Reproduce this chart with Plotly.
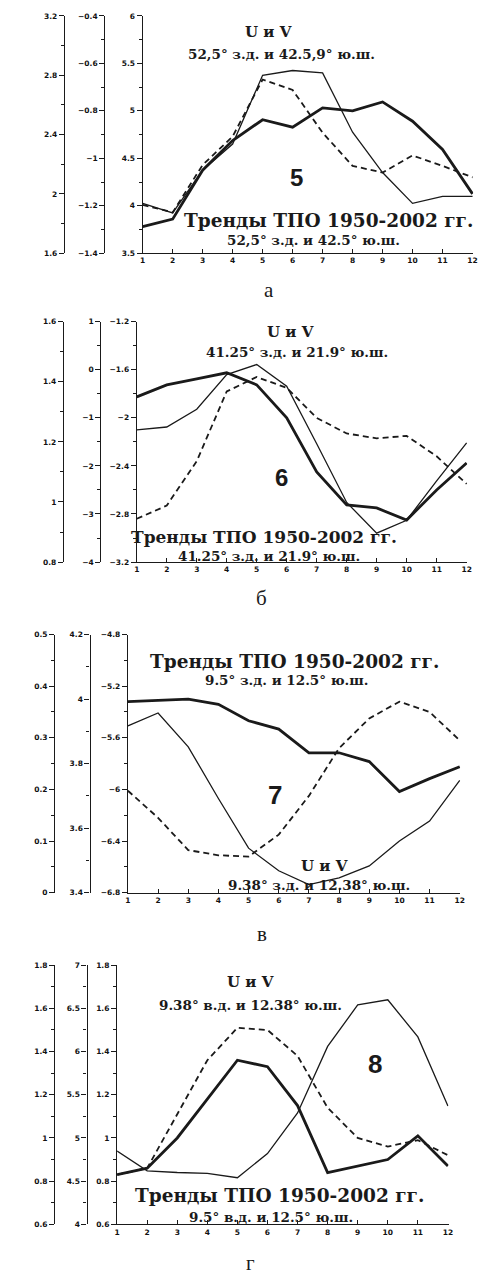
import plotly.graph_objects as go

W, H = 486, 1280
months = list(range(1, 13))
month_labels = [str(m) for m in months]

# Panel а (5)
a_thick = [1.78, 1.83, 2.16, 2.36, 2.50, 2.45, 2.58, 2.56, 2.62, 2.49, 2.30, 2.00]
a_thin = [-1.19, -1.23, -1.05, -0.94, -0.65, -0.63, -0.64, -0.89, -1.06, -1.19, -1.16, -1.16]
a_dash = [4.01, 3.93, 4.43, 4.73, 5.33, 5.22, 4.77, 4.42, 4.35, 4.53, 4.42, 4.30]

# Panel б (6)
b_thick = [1.35, 1.39, 1.41, 1.43, 1.39, 1.28, 1.10, 0.99, 0.98, 0.94, 1.04, 1.13]
b_thin = [-1.25, -1.19, -0.82, -0.10, 0.11, -0.34, -1.54, -2.76, -3.40, -3.13, -2.31, -1.52]
b_dash = [-2.84, -2.73, -2.36, -1.78, -1.66, -1.75, -2.00, -2.13, -2.17, -2.15, -2.32, -2.55]

# Panel в (7)
c_thick = [0.37, 0.373, 0.375, 0.365, 0.333, 0.317, 0.271, 0.271, 0.254, 0.196, 0.221, 0.244]
c_thin = [3.917, 3.957, 3.852, 3.692, 3.538, 3.468, 3.425, 3.446, 3.483, 3.560, 3.622, 3.748]
c_dash = [-6.01, -6.22, -6.47, -6.51, -6.52, -6.35, -6.05, -5.68, -5.45, -5.32, -5.40, -5.62]

# Panel г (8)
d_thick = [0.83, 0.86, 1.00, 1.18, 1.36, 1.33, 1.15, 0.84, 0.87, 0.90, 1.01, 0.87]
d_thin = [4.85, 4.62, 4.60, 4.59, 4.54, 4.82, 5.29, 6.06, 6.54, 6.60, 6.17, 5.37]
d_dash = [0.83, 0.86, 1.11, 1.36, 1.51, 1.50, 1.38, 1.14, 1.00, 0.96, 0.99, 0.92]

# axis ranges (min, max, step) per panel: [axis1, axis2, axis3(main)]
axis_ranges = [
    [(1.6, 3.2, 0.4), (-1.4, -0.4, 0.2), (3.5, 6.0, 0.5)],
    [(0.8, 1.6, 0.2), (-4.0, 1.0, 1.0), (-3.2, -1.2, 0.4)],
    [(0.0, 0.5, 0.1), (3.4, 4.2, 0.2), (-6.8, -4.8, 0.4)],
    [(0.6, 1.8, 0.2), (4.0, 7.0, 0.5), (0.6, 1.8, 0.2)],
]

series = [
    (a_thick, a_thin, a_dash),
    (b_thick, b_thin, b_dash),
    (c_thick, c_thin, c_dash),
    (d_thick, d_thin, d_dash),
]

# layout geometry in pixels
# (x_start, x_end, y_top, y_bottom, axis1_x, axis2_x)
geom = [
    (142, 478, 12, 251, 62, 103),
    (136, 472, 320, 562, 61, 99),
    (127, 465, 635, 895, 52, 88),
    (116, 453, 968, 1229, 52, 85),
]


def px(x):
    return x / W


def py(y):
    return 1 - y / H


INK = "#1a1a1a"
TICKFONT = dict(family="DejaVu Sans", size=7.5, color="#111111", weight="bold")

fig = go.Figure()
layout = {}

for p in range(4):
    x0, x1, yt, yb, a1x, a2x = geom[p]
    xname = "x" if p == 0 else f"x{p + 1}"
    xkey = "xaxis" if p == 0 else f"xaxis{p + 1}"
    ids = [3 * p + 1, 3 * p + 2, 3 * p + 3]
    ynames = ["y" if i == 1 else f"y{i}" for i in ids]
    ykeys = ["yaxis" if i == 1 else f"yaxis{i}" for i in ids]
    main_y = ynames[2]

    layout[xkey] = dict(
        domain=[px(x0), px(x1)], anchor=main_y, range=[1, 12.02],
        tickmode="array", tickvals=months, ticktext=month_labels,
        showline=True, linecolor=INK, linewidth=1.3,
        ticks="inside", ticklen=4, tickcolor=INK, tickwidth=1,
        tickfont=TICKFONT, showgrid=False, zeroline=False,
    )
    domain_y = [py(yb), py(yt)]
    positions = [px(a1x), px(a2x)]
    for k in range(3):
        lo, hi, st = axis_ranges[p][k]
        ax = dict(
            range=[lo, hi], dtick=st, tick0=lo,
            showline=True, linecolor=INK, linewidth=1.3,
            ticks="outside", ticklen=5, tickcolor=INK, tickwidth=1,
            tickfont=TICKFONT, showgrid=False, zeroline=False,
            minor=dict(dtick=st / 2, tick0=lo, ticklen=3, tickcolor=INK, ticks="outside"),
            side="left",
        )
        if k == 2:
            ax.update(domain=domain_y, anchor=xname)
        else:
            ax.update(anchor="free", position=positions[k], overlaying=main_y)
        layout[ykeys[k]] = ax

    thick, thin, dash = series[p]
    fig.add_trace(go.Scatter(x=months, y=thick, xaxis=xname, yaxis=ynames[0], mode="lines",
                             line=dict(color=INK, width=2.8), showlegend=False))
    fig.add_trace(go.Scatter(x=months, y=thin, xaxis=xname, yaxis=ynames[1], mode="lines",
                             line=dict(color=INK, width=1.3), showlegend=False))
    fig.add_trace(go.Scatter(x=months, y=dash, xaxis=xname, yaxis=ynames[2], mode="lines",
                             line=dict(color=INK, width=1.8, dash="6px,4px"), showlegend=False))

SERIF = "DejaVu Serif"
LSERIF = "Liberation Serif"
SANS = "Liberation Sans"
deg = "°"

texts = [
    # (text, x, y, size, family, bold)
    ("U и V", 270, 28, 15, SERIF, True),
    (f"52,5{deg} з.д. и 42.5,9{deg} ю.ш.", 283, 50, 13.5, SERIF, True),
    ("5", 298, 175, 24, SANS, True),
    ("Тренды ТПО 1950-2002 гг.", 331, 218, 18.5, SERIF, True),
    (f"52,5{deg} з.д. и 42.5{deg} ю.ш.", 316, 238, 13.5, SERIF, True),
    ("а", 270, 288, 21, LSERIF, False),

    ("U и V", 292, 330, 15, SERIF, True),
    (f"41.25{deg} з.д. и 21.9{deg} ю.ш.", 299, 350, 13.5, SERIF, True),
    ("6", 283, 477, 24, SANS, True),
    ("Тренды ТПО 1950-2002 гг.", 265, 537, 17, SERIF, True),
    (f"41.25{deg} з.д. и 21.9{deg} ю.ш.", 270, 556, 13.5, SERIF, True),
    ("б", 263, 598, 21, LSERIF, False),

    ("Тренды ТПО 1950-2002 гг.", 296, 662, 18.5, SERIF, True),
    (f"9.5{deg} з.д. и 12.5{deg} ю.ш.", 288, 681, 13.5, SERIF, True),
    ("7", 277, 797, 26, SANS, True),
    ("U и V", 327, 868, 15, SERIF, True),
    (f"9.38{deg} з.д. и 12.38{deg} ю.ш.", 321, 887, 13.5, SERIF, True),
    ("в", 263, 937, 21, LSERIF, False),

    ("U и V", 252, 985, 15, SERIF, True),
    (f"9.38{deg} в.д. и 12.38{deg} ю.ш.", 252, 1008, 13.5, SERIF, True),
    ("8", 378, 1068, 26, SANS, True),
    ("Тренды ТПО 1950-2002 гг.", 281, 1200, 18.5, SERIF, True),
    (f"9.5{deg} в.д. и 12.5{deg} ю.ш.", 272, 1222, 13.5, SERIF, True),
    ("г", 252, 1268, 21, LSERIF, False),
]

annotations = []
for t, x, y, size, fam, bold in texts:
    annotations.append(dict(
        text=t, x=px(x), y=py(y), xref="paper", yref="paper",
        showarrow=False, xanchor="center", yanchor="middle",
        font=dict(family=fam, size=size, color=INK, weight="bold" if bold else "normal"),
    ))

fig.update_layout(
    width=W, height=H, margin=dict(l=0, r=0, t=0, b=0),
    paper_bgcolor="white", plot_bgcolor="white",
    annotations=annotations, **layout,
)

fig.write_html("out.html")
